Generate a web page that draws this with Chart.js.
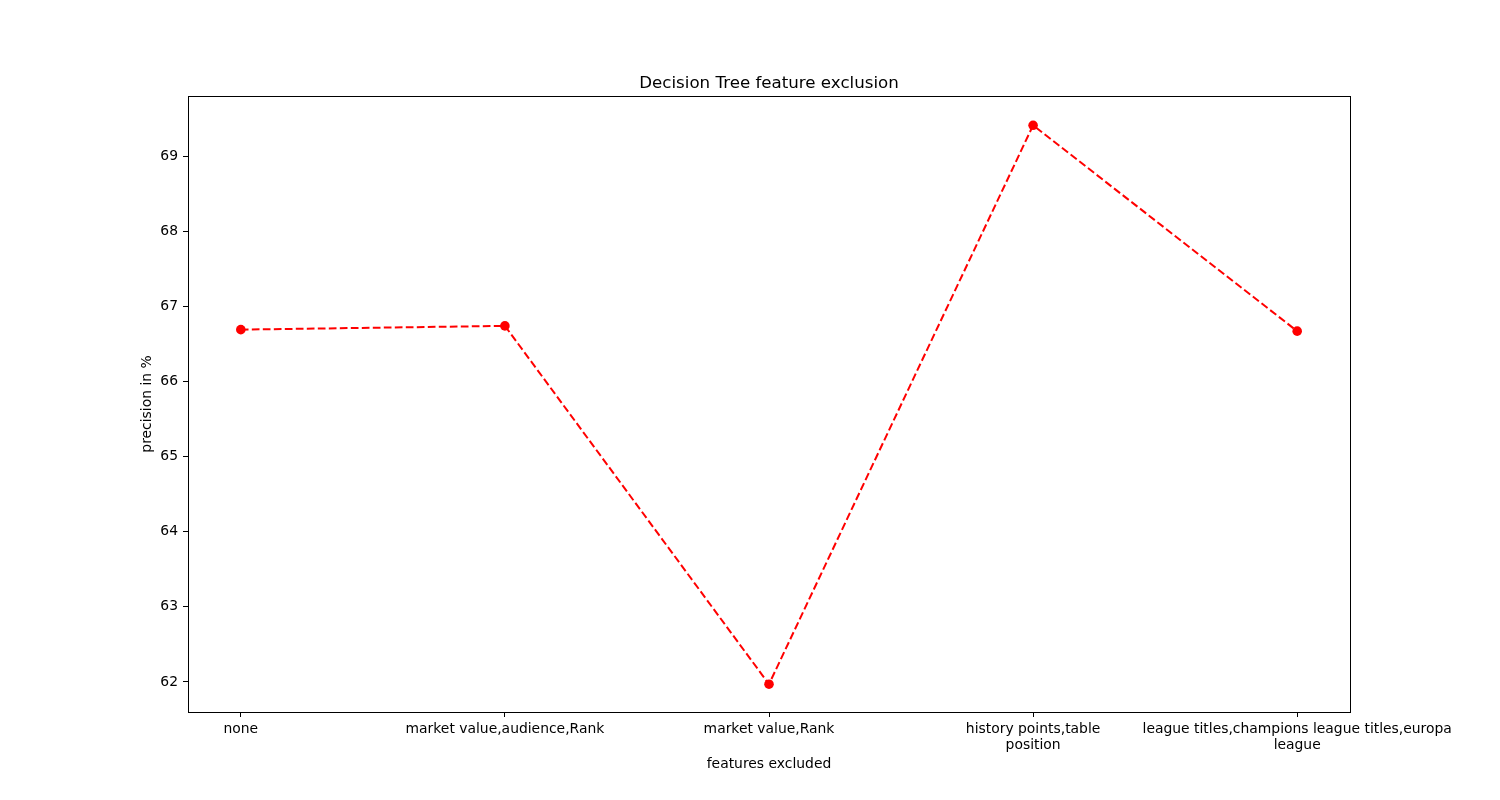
<!DOCTYPE html>
<html>
<head>
<meta charset="utf-8">
<script src="https://cdn.jsdelivr.net/npm/chart.js@4/dist/chart.umd.min.js"></script>
<style>
  html, body { margin: 0; padding: 0; background: #ffffff; }
  #wrap { width: 1500px; height: 800px; }
</style>
</head>
<body>
<div id="wrap"><canvas id="c" width="1500" height="800"></canvas></div>
<script>
const categories = [
  ["none"],
  ["market value,audience,Rank"],
  ["market value,Rank"],
  ["history points,table", "position"],
  ["league titles,champions league titles,europa", "league"]
];
const precision = [66.69, 66.74, 61.97, 69.41, 66.67];
const yTicks = [62, 63, 64, 65, 66, 67, 68, 69];
const chartTitle = "Decision Tree feature exclusion";
const xTitle = "features excluded";
const yTitle = "precision in %";

const FONT = "'DejaVu Sans', sans-serif";

const frame = {
  id: 'frame',
  afterDatasetsDraw(chart) {
    const a = chart.chartArea;
    const ctx = chart.ctx;
    ctx.save();
    ctx.strokeStyle = '#000';
    ctx.lineWidth = 1;
    ctx.strokeRect(Math.round(a.left) + 0.5, Math.round(a.top) + 0.5,
                   Math.round(a.right - a.left), Math.round(a.bottom - a.top));
    ctx.restore();
  }
};

new Chart(document.getElementById('c'), {
  type: 'line',
  data: {
    datasets: [{
      data: precision.map((v, i) => ({ x: i, y: v })),
      borderColor: '#ff0000',
      backgroundColor: '#ff0000',
      borderWidth: 2,
      borderDash: [7.7, 3.3],
      pointRadius: 4.8,
      pointHoverRadius: 4.8,
      pointBorderWidth: 0,
      pointBackgroundColor: '#ff0000',
      tension: 0,
      fill: false,
      clip: false
    }]
  },
  options: {
    responsive: false,
    animation: false,
    devicePixelRatio: 1,
    layout: { padding: { left: 38, right: 0, top: 0, bottom: 0 } },
    plugins: {
      legend: { display: false },
      tooltip: { enabled: false },
      title: {
        display: true,
        text: chartTitle,
        color: '#000',
        font: { family: FONT, size: 16.67, weight: 'normal', lineHeight: 1.2 },
        padding: { top: 74, bottom: 2 }
      }
    },
    scales: {
      x: {
        type: 'linear',
        min: -0.2,
        max: 4.2,
        afterBuildTicks(scale) { scale.ticks = categories.map((c, i) => ({ value: i })); },
        afterFit(scale) { scale.height = 88; },
        grid: { display: true, drawOnChartArea: false, drawTicks: true, tickLength: 5, color: '#000', tickWidth: 1 },
        border: { display: true, color: '#000', width: 1 },
        ticks: {
          autoSkip: false,
          maxRotation: 0,
          minRotation: 0,
          padding: 4,
          color: '#000',
          font: { family: FONT, size: 13.9, lineHeight: 1.15 },
          callback(v) { return categories[Math.round(v)] || ''; }
        },
        title: {
          display: true,
          text: xTitle,
          color: '#000',
          font: { family: FONT, size: 13.9, lineHeight: 1.2 },
          padding: { top: 0, bottom: 27 }
        }
      },
      y: {
        type: 'linear',
        position: 'left',
        min: 61.6,
        max: 69.8,
        afterBuildTicks(scale) { scale.ticks = yTicks.map(v => ({ value: v })); },
        afterFit(scale) { scale.width = 150; },
        grid: { display: true, drawOnChartArea: false, drawTicks: true, tickLength: 5, color: '#000', tickWidth: 1 },
        border: { display: true, color: '#000', width: 1 },
        ticks: {
          padding: 5,
          color: '#000',
          font: { family: FONT, size: 13.9 },
          callback(v) { return String(v); }
        },
        title: {
          display: true,
          text: yTitle,
          color: '#000',
          font: { family: FONT, size: 13.9, lineHeight: 1.2 },
          padding: { top: 101, bottom: 0 }
        }
      },
      spacer: {
        type: 'linear',
        position: 'right',
        display: true,
        min: 0,
        max: 1,
        afterFit(scale) { scale.width = 150; },
        grid: { display: false, drawTicks: false },
        border: { display: false },
        ticks: { display: false }
      }
    }
  },
  plugins: [frame]
});
</script>
</body>
</html>
